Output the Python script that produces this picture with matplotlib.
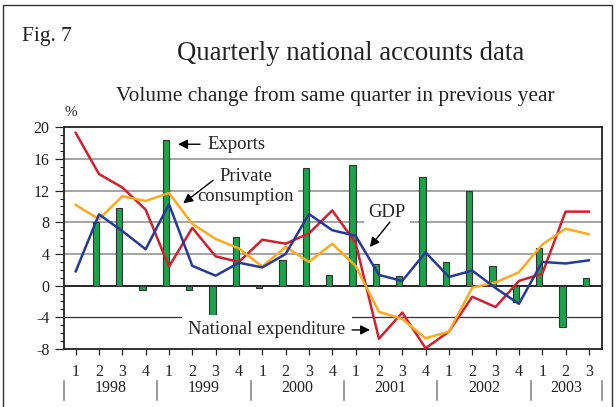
import numpy as np
import matplotlib
matplotlib.use("Agg")
import matplotlib.pyplot as plt
import matplotlib.transforms as mtransforms

plt.rcParams['font.family'] = ['Liberation Serif', 'DejaVu Serif']
plt.rcParams['axes.unicode_minus'] = False

years = ["1998", "1999", "2000", "2001", "2002", "2003"]
quarters = ["1", "2", "3", "4"] * 5 + ["1", "2", "3"]

exports = [np.nan, 8.0, 9.8, -0.5, 18.4, -0.6, -3.7, 6.1, -0.3, 3.2, 14.9, 1.3,
           15.2, 2.7, 1.2, 13.7, 3.0, 11.9, 2.5, -2.1, 4.8, -5.2, 1.0]
national_exp = [19.3, 14.1, 12.4, 9.6, 2.4, 7.3, 3.7, 3.0, 5.8, 5.3, 6.6, 9.5,
                5.4, -6.7, -3.4, -7.9, -5.8, -1.4, -2.7, 0.6, 1.5, 9.35, 9.35]
private_cons = [10.2, 8.4, 11.3, 10.7, 11.7, 7.8, 5.9, 4.7, 2.4, 4.9, 3.0, 5.3,
                2.5, -3.3, -4.2, -6.65, -5.8, -0.25, 0.4, 1.7, 5.2, 7.2, 6.5]
gdp = [1.8, 9.0, 6.9, 4.6, 10.3, 2.5, 1.26, 2.9, 2.3, 4.0, 9.05, 7.0,
       6.3, 1.35, 0.6, 4.2, 1.1, 1.9, -0.3, -2.3, 3.0, 2.8, 3.2]

x = np.arange(len(quarters))

fig = plt.figure(figsize=(6.16, 4.07), dpi=100)
W, H = 616, 407
ax = fig.add_axes([64 / W, 1 - 349 / H, (601.7 - 64) / W, (349 - 127.3) / H])

# outer frame
fig.patches.append(plt.Rectangle((3 / W, -0.05), (612 - 3) / W, 1 - 5 / H + 0.05,
                                 transform=fig.transFigure, fill=False,
                                 edgecolor="#333333", lw=1.0))

# gridlines
for g in [16, 12, 8, 4]:
    ax.axhline(g, color="#8c8c8c", lw=1.1, zorder=1)
ax.axhline(0, color="black", lw=1.2, zorder=1)
ax.axhline(-4, color="#333333", lw=0.9, zorder=1)

ax.bar(x - 0.13, exports, width=0.27, color="#1aa34a", edgecolor="#333333",
       lw=0.8, zorder=2)
ax.plot(x, national_exp, color="#d2202f", lw=1.8, zorder=4)
ax.plot(x, private_cons, color="#ffaa1d", lw=1.8, zorder=4)
ax.plot(x, gdp, color="#27399b", lw=1.8, zorder=5)

ax.set_xlim(-0.5, 22.55)
ax.set_ylim(-8, 20)
ax.set_yticks(np.arange(-8, 21, 4))
ax.set_yticks(np.arange(-8, 21, 1), minor=True)
ax.set_xticks(x)
ax.set_xticklabels(quarters)
ax.tick_params(axis="y", which="major", direction="out", length=6.5, width=0.9,
               labelsize=11.5, pad=4, colors="#222222")
ax.tick_params(axis="y", which="minor", direction="out", length=3, width=0.8,
               colors="#222222")
ax.tick_params(axis="x", direction="out", length=4.5, width=0.9,
               labelsize=11.5, pad=6.5, colors="#222222")
for s in ax.spines.values():
    s.set_linewidth(1.3)
    s.set_color("#222222")

# year labels and separators
trans = mtransforms.blended_transform_factory(ax.transData, ax.transAxes)
for i, yr in enumerate(years):
    start = i * 4 - 0.5
    end = min(i * 4 + 3.5, 22.55)
    ax.text((start + end) / 2, -0.178, yr, transform=trans, ha="center",
            va="center", fontsize=11.5, color="#222222")
for sx in [-0.5, 3.5, 7.5, 11.5, 15.5, 19.5, 22.55]:
    ax.plot([sx, sx], [-0.144, -0.232], transform=trans, color="#888888",
            lw=1.2, clip_on=False)

# annotations
box = dict(facecolor="white", edgecolor="none", pad=3)
ap = dict(arrowstyle="-|>", color="black", lw=1.0, mutation_scale=14,
          shrinkA=0, shrinkB=0)
fs = 13.4
ax.text(5.64, 17.86, "Exports", ha="left", va="center", fontsize=fs,
        color="#222222", zorder=3)
ax.annotate("", xy=(4.39, 17.86), xytext=(5.33, 17.86), arrowprops=ap)
ax.text(7.3, 12.5, "Private\nconsumption", ha="center", va="center",
        fontsize=fs, color="#222222", linespacing=1.2, bbox=box, zorder=3)
ax.annotate("", xy=(4.61, 10.4), xytext=(5.89, 13.3), arrowprops=ap)
ax.text(13.35, 9.27, "GDP", ha="center", va="center", fontsize=fs,
        color="#222222", bbox=box, zorder=3)
ax.annotate("", xy=(12.61, 4.88), xytext=(13.47, 8.03), arrowprops=ap)
ax.text(4.82, -5.59, "National expenditure", ha="left", va="center",
        fontsize=fs, color="#222222", bbox=dict(facecolor="white",
        edgecolor="none", pad=4.5), zorder=3)
ax.annotate("", xy=(12.62, -5.59), xytext=(11.85, -5.59), arrowprops=ap)

# titles
fig.text(22 / W, 1 - 37 / H, "Fig. 7", ha="left", va="center", fontsize=15.5,
         color="#222222")
fig.text(351 / W, 1 - 53 / H, "Quarterly national accounts data", ha="center",
         va="center", fontsize=19.3, color="#222222")
fig.text(335 / W, 1 - 96 / H, "Volume change from same quarter in previous year",
         ha="center", va="center", fontsize=15.4, color="#222222")
fig.text(71 / W, 1 - 113 / H, "%", ha="center", va="center", fontsize=11,
         color="#222222")

fig.savefig("out.png", dpi=100)
